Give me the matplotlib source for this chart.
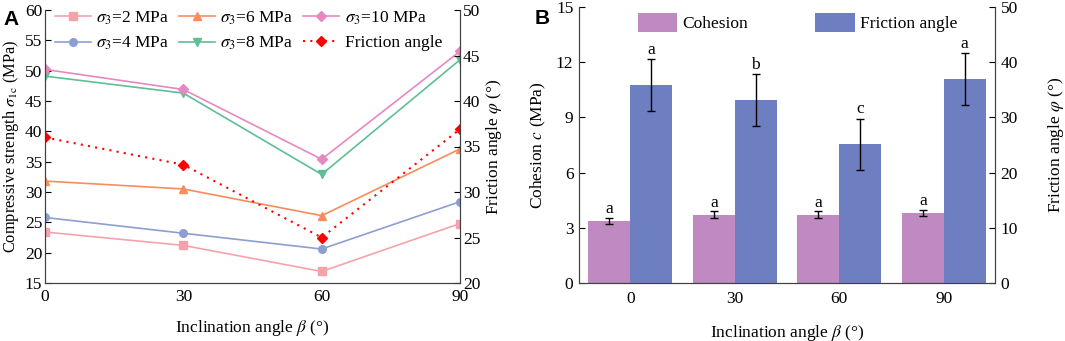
import matplotlib
matplotlib.use("Agg")
import matplotlib.pyplot as plt
import numpy as np

plt.rcParams['font.family'] = ['Liberation Serif', 'DejaVu Serif']
plt.rcParams['mathtext.fontset'] = 'stix'
plt.rcParams['font.size'] = 12.5

# Panel A data
angles = [0, 30, 60, 90]
strength_2 = [23.4, 21.2, 16.9, 24.8]
strength_4 = [25.8, 23.2, 20.6, 28.4]
strength_6 = [31.8, 30.5, 26.1, 37.1]
strength_8 = [49.1, 46.3, 32.9, 51.8]
strength_10 = [50.2, 46.9, 35.4, 53.2]
friction_a = [36.0, 33.0, 25.0, 36.9]

# Panel B data
cohesion = [3.35, 3.72, 3.72, 3.80]
cohesion_err = [0.17, 0.17, 0.17, 0.17]
cohesion_letters = ['a', 'a', 'a', 'a']
friction_b = [35.9, 33.1, 25.1, 36.9]
friction_err = [4.7, 4.7, 4.7, 4.7]
friction_letters = ['a', 'b', 'c', 'a']

spine_col = '#404040'

fig = plt.figure(figsize=(10.65, 3.41), dpi=100)
axA = fig.add_axes([45 / 1065, 1 - 283 / 341, 415 / 1065, 273 / 341])
axA2 = axA.twinx()

series = [
    (strength_2, r'$\sigma_3$=2 MPa', '#F5A3AA', 's'),
    (strength_4, r'$\sigma_3$=4 MPa', '#8D9FD0', 'o'),
    (strength_6, r'$\sigma_3$=6 MPa', '#F98C5C', '^'),
    (strength_8, r'$\sigma_3$=8 MPa', '#5DBE98', 'v'),
    (strength_10, r'$\sigma_3$=10 MPa', '#E688C2', 'D'),
]
handles = []
for vals, lab, col, mk in series:
    h, = axA.plot(angles, vals, color=col, marker=mk, markersize=5.5 if mk != 'D' else 4.6,
                  linewidth=1.2, label=lab)
    handles.append(h)
hf, = axA2.plot(angles, friction_a, color='#FF0000', linestyle=(0, (1, 2.5)), linewidth=1.5,
                marker='D', markersize=4.8, label='Friction angle')
handles.append(hf)

axA.set_xlim(0, 90)
axA.set_ylim(15, 60)
axA.set_yticks(np.arange(15, 61, 5))
axA.set_xticks(angles)
axA2.set_ylim(20, 50)
axA2.set_yticks(np.arange(20, 51, 5))
axA.set_xlabel(r'Inclination angle $\beta$ (°)', labelpad=10)
axA.set_ylabel(r'Compressive strength $\sigma_{\rm 1c}$ (MPa)', labelpad=3, fontsize=11.8)
axA2.set_ylabel(r'Friction angle $\varphi$ (°)', labelpad=3)

for ax in (axA, axA2):
    ax.spines['top'].set_visible(False)
    for s in ('left', 'right', 'bottom'):
        ax.spines[s].set_color(spine_col)
    ax.tick_params(direction='in', length=4, colors='black', pad=2)
axA.tick_params(axis='x', length=0, pad=4)

axA.legend(handles=handles, ncol=3, loc='upper center', bbox_to_anchor=(0.49, 1.04),
           frameon=False, handlelength=2.1, columnspacing=0.55, handletextpad=0.3,
           labelspacing=0.45, borderaxespad=0.2)

fig.text(0.003, 0.97, 'A', family='Liberation Sans', weight='bold', fontsize=15, va='top')

# Panel B
axB = fig.add_axes([579 / 1065, 1 - 283 / 341, 416 / 1065, 276 / 341])
axB2 = axB.twinx()
x = np.arange(len(angles))
w = 0.4
axB.bar(x - w / 2, cohesion, width=w, color='#BE8AC1', label='Cohesion')
axB.errorbar(x - w / 2, cohesion, yerr=cohesion_err, fmt='none', ecolor='black',
             capsize=3, elinewidth=1)
axB2.bar(x + w / 2, friction_b, width=w, color='#6E7FC1', label='Friction angle')
axB2.errorbar(x + w / 2, friction_b, yerr=friction_err, fmt='none', ecolor='black',
              capsize=3, elinewidth=1)
for i in range(len(x)):
    axB.text(x[i] - w / 2, cohesion[i] + cohesion_err[i] + 0.05, cohesion_letters[i],
             ha='center', va='bottom')
    axB2.text(x[i] + w / 2, friction_b[i] + friction_err[i] + 0.2, friction_letters[i],
              ha='center', va='bottom')

axB.set_xlim(-0.49, 3.49)
axB.set_xticks(x)
axB.set_xticklabels([str(a) for a in angles])
axB.set_ylim(0, 15)
axB.set_yticks(np.arange(0, 16, 3))
axB2.set_ylim(0, 50)
axB2.set_yticks(np.arange(0, 51, 10))
axB.set_xlabel(r'Inclination angle $\beta$ (°)', labelpad=11)
axB.set_ylabel(r'Cohesion $c$ (MPa)', labelpad=6)
axB2.set_ylabel(r'Friction angle $\varphi$ (°)', labelpad=20)

for ax in (axB, axB2):
    ax.spines['top'].set_visible(False)
    for s in ('left', 'right', 'bottom'):
        ax.spines[s].set_color(spine_col)
    ax.tick_params(direction='in', length=4, colors='black', pad=4)
axB.tick_params(axis='x', length=0, pad=6)

hb = [axB.patches[0], axB2.patches[0]]
axB.legend(hb, ['Cohesion', 'Friction angle'], ncol=2, loc='upper center',
           bbox_to_anchor=(0.525, 1.035), frameon=False, handlelength=2.25, handleheight=1.3,
           columnspacing=3.9, handletextpad=0.3)

fig.text(0.502, 0.975, 'B', family='Liberation Sans', weight='bold', fontsize=15, va='top')

fig.savefig('out.png', dpi=100)
